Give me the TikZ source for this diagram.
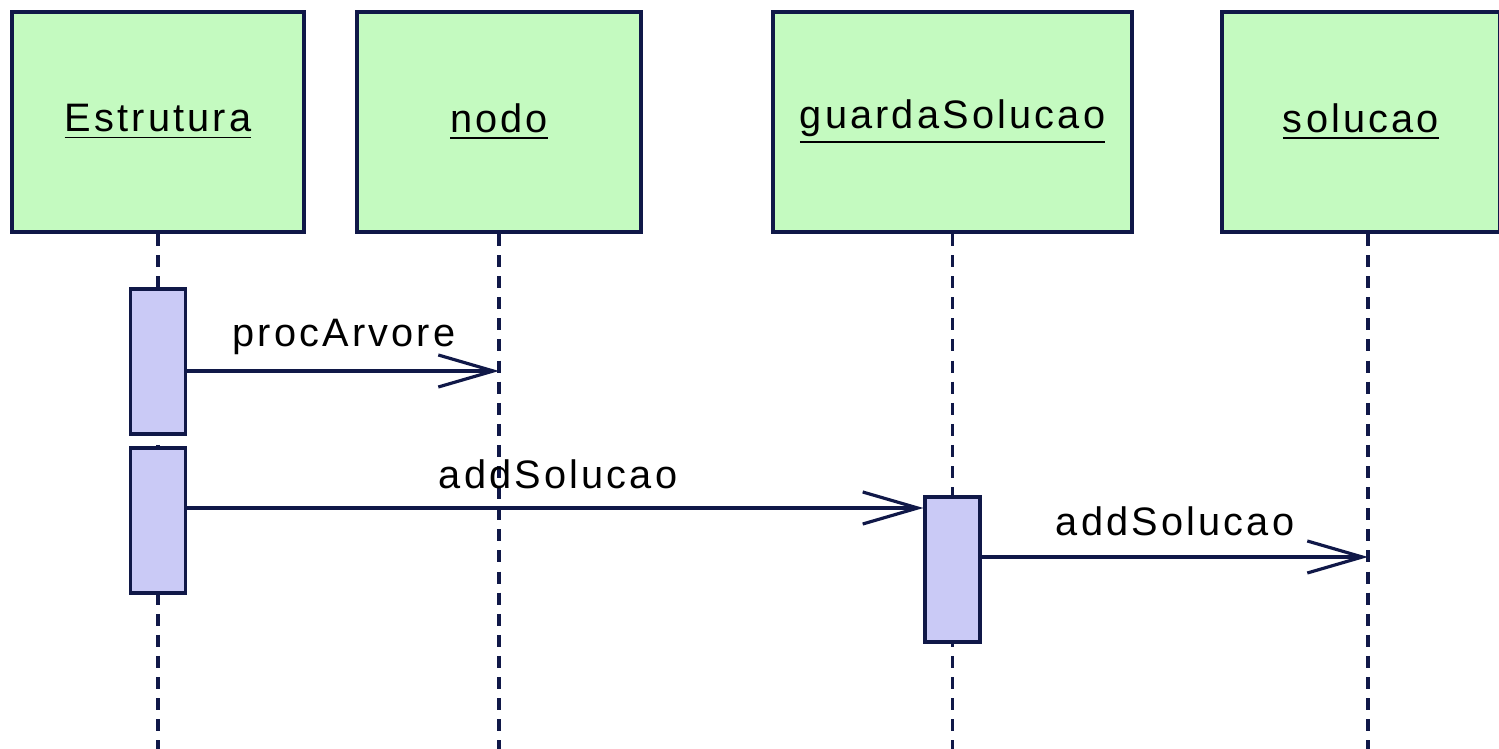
\documentclass[tikz,border=0pt]{standalone}
\usepackage{fontspec}
\newfontfamily\umlfont[LetterSpace=8]{Liberation Sans}
\usetikzlibrary{arrows.meta,positioning}
\definecolor{objgreen}{RGB}{196,250,192}
\definecolor{actblue}{RGB}{202,202,246}
\definecolor{umlnavy}{RGB}{16,24,72}

\begin{document}
\begin{tikzpicture}[x=0.01cm,y=-0.01cm,
	obj/.style={draw=umlnavy,fill=objgreen,line width=1.1pt,minimum height=2.2cm,inner sep=0,font=\umlfont\fontsize{11.3}{13}\selectfont},
	act/.style={draw=umlnavy,fill=actblue,line width=0.9pt,minimum width=0.55cm,minimum height=1.45cm,inner sep=0},
	life/.style={umlnavy,line width=1pt,dash pattern=on 3.4pt off 2.6pt},
	msg/.style={umlnavy,line width=0.9pt,-{Straight Barb[length=5.5mm,width=3.2mm]}},
	lbl/.style={font=\umlfont\fontsize{11.3}{13}\selectfont,inner sep=0},
]
\useasboundingbox[fill=white] (0,0) rectangle (1499,749);
\coordinate (bot) at (0,749);
% objects
\node[obj,minimum width=2.92cm] (est) at (158,122) {\underline{Estrutura}};
\node[obj,minimum width=2.84cm] (nodo) at (499,122) {\underline{nodo}};
\node[obj,minimum width=3.59cm] (gs) at (952.5,122) {\underline{guardaSolucao}};
\node[obj,minimum width=2.78cm] (sol) at (1361,122) {\underline{solucao}};
% lifelines
\draw[life] (est.south) -- (est.south |- bot);
\draw[life] (nodo.south) -- (nodo.south |- bot);
\draw[life] (gs.south) -- (gs.south |- bot);
\draw[life] ([xshift=0.07cm]sol.south) -- ([xshift=0.07cm]sol.south |- bot);
% activations
\node[act] (ea) at (est.south |- 0,361.5) {};
\node[act] (eb) at (est.south |- 0,520.5) {};
\node[act] (ga) at (gs.south |- 0,569.5) {};
% messages
\draw[msg] (ea.east |- 0,371) -- (nodo.south |- 0,371);
\draw[msg] (eb.east |- 0,508) -- (ga.west |- 0,508);
\draw[msg] (ga.east |- 0,557) -- ([xshift=0.07cm]sol.south |- 0,557);
\node[lbl] (m1) at (344,337) {procArvore};
\node[lbl] (m2) at (558,474) {addSolucao};
\node[lbl] (m3) at (1175,521) {addSolucao};
\end{tikzpicture}
\end{document}
